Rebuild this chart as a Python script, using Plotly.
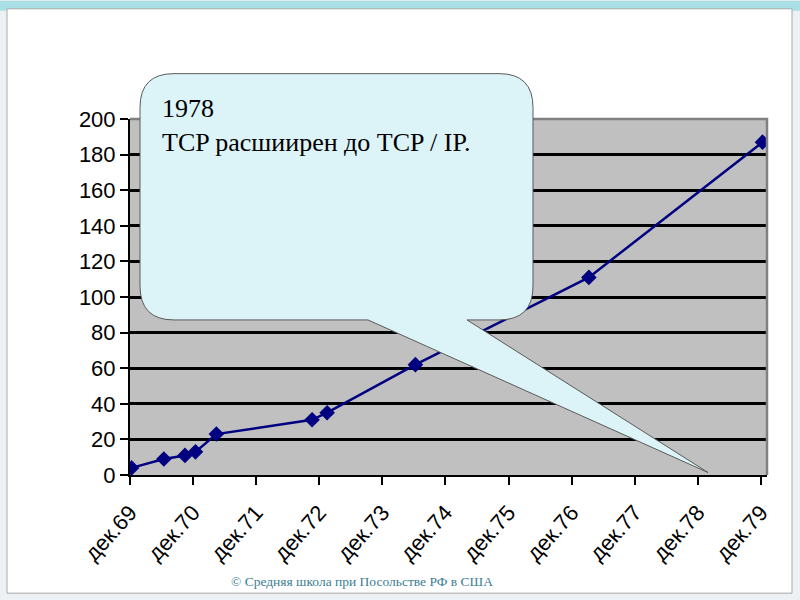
import plotly.graph_objects as go

# ---- data ----
dates = ["1969-12-10", "1970-06-15", "1970-10-15", "1970-12-15", "1971-04-15",
         "1972-10-20", "1973-01-15", "1974-06-10", "1977-03-10", "1979-12-10"]
hosts = [4, 9, 11, 13, 23, 31, 35, 62, 111, 187]

tick_dates = ["1969-12-01", "1970-12-01", "1971-12-01", "1972-12-01", "1973-12-01",
              "1974-12-01", "1975-12-01", "1976-12-01", "1977-12-01", "1978-12-01",
              "1979-12-01"]
tick_text = ["дек.69", "дек.70", "дек.71", "дек.72", "дек.73", "дек.74",
             "дек.75", "дек.76", "дек.77", "дек.78", "дек.79"]
y_ticks = [0, 20, 40, 60, 80, 100, 120, 140, 160, 180, 200]

callout_text = "1978<br>TCP расшиирен до TCP / IP."
footer_text = "© Средняя школа при Посольстве РФ в США"

# ---- layout geometry (pixels) ----
W, H = 800, 600
L, R, T, B = 130, 767, 118.5, 475.5


def px(x):
    return (x - L) / (R - L)


def py(y):
    return (B - y) / (B - T)


def path(points_cmds):
    out = []
    for cmd, pts in points_cmds:
        coords = [f"{px(x):.5f},{py(y):.5f}" for (x, y) in pts]
        out.append(cmd + " ".join(coords))
    return " ".join(out) + " Z"


fig = go.Figure()
fig.add_trace(go.Scatter(
    x=dates, y=hosts, mode="lines+markers",
    line=dict(color="#000080", width=2.5),
    marker=dict(symbol="diamond", size=12, color="#000080"),
    showlegend=False, hoverinfo="skip",
))

shapes = []
# slide background pieces
shapes.append(dict(type="rect", xref="paper", yref="paper", layer="below",
                   x0=px(0), x1=px(800), y0=py(10), y1=py(0),
                   fillcolor="#A9DFE5", line=dict(width=0)))
shapes.append(dict(type="path", xref="paper", yref="paper", layer="below",
                   path=path([("M", [(0, 0)]), ("L", [(235, 0), (255, 10), (0, 10)])]),
                   fillcolor="#7FC1DA", line=dict(width=0)))
shapes.append(dict(type="path", xref="paper", yref="paper", layer="below",
                   path=path([("M", [(235, 0)]), ("L", [(262, 0), (285, 10), (255, 10)])]),
                   fillcolor="#F2FBFC", line=dict(width=0)))
shapes.append(dict(type="path", xref="paper", yref="paper", layer="below",
                   path=path([("M", [(0, 0)]), ("L", [(8, 0), (8, 90), (0, 110)])]),
                   fillcolor="#8DD3E2", line=dict(width=0)))
shapes.append(dict(type="path", xref="paper", yref="paper", layer="below",
                   path=path([("M", [(790, 0)]), ("L", [(800, 0), (800, 40), (790, 30)])]),
                   fillcolor="#6FB7D6", line=dict(width=0)))
# white slide panel
shapes.append(dict(type="rect", xref="paper", yref="paper", layer="below",
                   x0=px(7), x1=px(792), y0=py(594), y1=py(8),
                   fillcolor="#FFFFFF", line=dict(color="#A8A8A8", width=1)))
# grey plot area
shapes.append(dict(type="rect", xref="paper", yref="paper", layer="below",
                   x0=0, x1=1, y0=0, y1=1,
                   fillcolor="#C0C0C0", line=dict(width=0)))
# grey border on top and right of plot area
shapes.append(dict(type="path", xref="paper", yref="paper", layer="above",
                   path="M 0,1 L 1,1 L 1,0",
                   line=dict(color="#808080", width=2.5)))

# callout bubble
r = 34
bx0, bx1, by0, by1 = 140, 533, 73, 320
tail_l, tail_r, tip = 368, 467, (708, 473)
bubble = (
    f"M {px(bx0 + r):.5f},{py(by0):.5f} "
    f"L {px(bx1 - r):.5f},{py(by0):.5f} "
    f"Q {px(bx1):.5f},{py(by0):.5f} {px(bx1):.5f},{py(by0 + r):.5f} "
    f"L {px(bx1):.5f},{py(by1 - r):.5f} "
    f"Q {px(bx1):.5f},{py(by1):.5f} {px(bx1 - r):.5f},{py(by1):.5f} "
    f"L {px(tail_r):.5f},{py(by1):.5f} "
    f"L {px(tip[0]):.5f},{py(tip[1]):.5f} "
    f"L {px(tail_l):.5f},{py(by1):.5f} "
    f"L {px(bx0 + r):.5f},{py(by1):.5f} "
    f"Q {px(bx0):.5f},{py(by1):.5f} {px(bx0):.5f},{py(by1 - r):.5f} "
    f"L {px(bx0):.5f},{py(by0 + r):.5f} "
    f"Q {px(bx0):.5f},{py(by0):.5f} {px(bx0 + r):.5f},{py(by0):.5f} Z"
)
shapes.append(dict(type="path", xref="paper", yref="paper", layer="above",
                   path=bubble, fillcolor="#DCF4F8",
                   line=dict(color="#5A5A5A", width=1)))

annotations = [
    dict(xref="paper", yref="paper", x=px(160), y=py(91), xanchor="left", yanchor="top",
         text=callout_text, showarrow=False, align="left",
         font=dict(family="Liberation Serif", size=26, color="#000000")),
    dict(xref="paper", yref="paper", x=px(362), y=py(582), xanchor="center", yanchor="middle",
         text=footer_text, showarrow=False,
         font=dict(family="Liberation Serif", size=13.5, color="#3B7E92")),
]

fig.update_layout(
    width=W, height=H,
    margin=dict(l=L, r=W - R, t=T, b=H - B, pad=0),
    paper_bgcolor="#EEF1F3",
    plot_bgcolor="rgba(0,0,0,0)",
    shapes=shapes,
    annotations=annotations,
    font=dict(family="Liberation Sans", size=22, color="#000000"),
    xaxis=dict(
        type="date", range=["1969-12-01", "1980-01-05"],
        tickmode="array", tickvals=tick_dates, ticktext=tick_text,
        tickangle=-48, ticks="outside", ticklen=8, tickwidth=2, tickcolor="#000000",
        ticklabelstandoff=6,
        showgrid=False, showline=True, linecolor="#000000", linewidth=2,
        zeroline=False, tickfont=dict(size=22),
    ),
    yaxis=dict(
        range=[0, 200], tickmode="array", tickvals=y_ticks,
        ticks="outside", ticklen=8, tickwidth=2, tickcolor="#000000",
        showgrid=True, gridcolor="#000000", gridwidth=2.5,
        showline=True, linecolor="#000000", linewidth=2,
        zeroline=False, tickfont=dict(size=22),
    ),
)

fig.write_html("out.html", config={"displayModeBar": False},
               post_script="document.body.style.margin='0';document.body.style.overflow='hidden';")
